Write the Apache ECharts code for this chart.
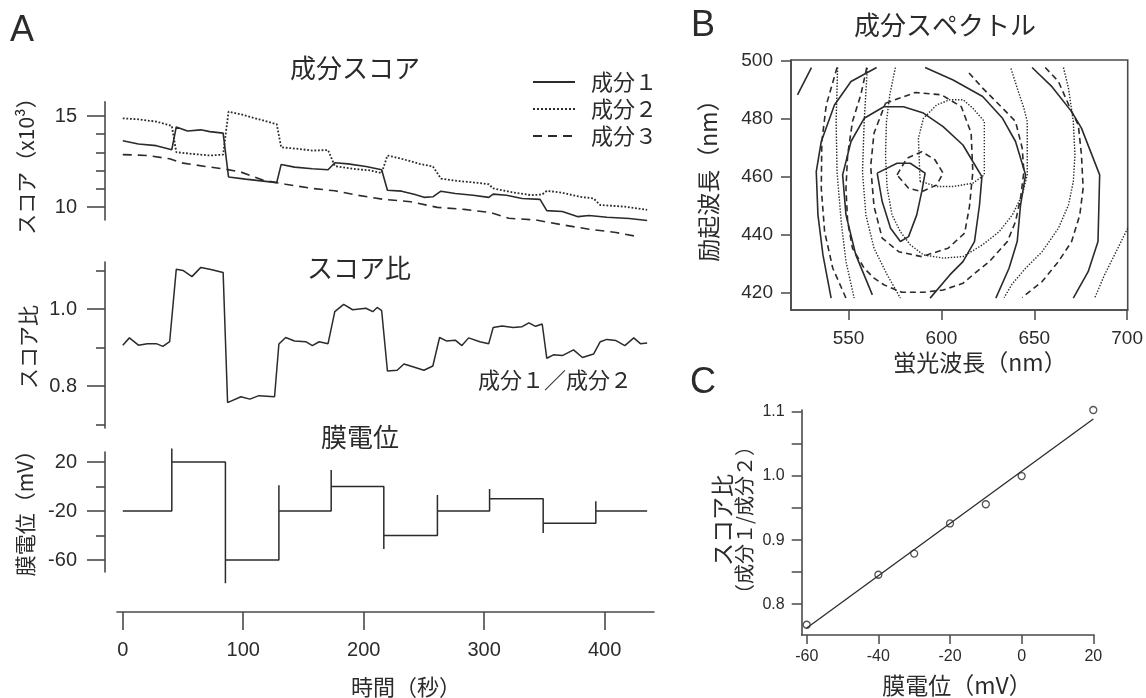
<!DOCTYPE html>
<html>
<head>
<meta charset="utf-8">
<title>成分スコア</title>
<script src="https://cdn.jsdelivr.net/npm/echarts@6/dist/echarts.min.js"></script>
<style>
  html, body { margin: 0; padding: 0; background: #fff; }
  #chart { width: 1146px; height: 698px; }
</style>
</head>
<body>
<div id="chart"></div>
<script>
  // ---- A: 成分スコア (時間 [秒], スコア x10^3)
  const scoreComp1 = [[0,13.64],[13,13.46],[27.8,13.37],[40.7,13.15],[44.4,14.40],[53.7,14.18],[64.8,14.24],[72.2,14.14],[83.3,14.06],[87.8,11.65],[101.8,11.53],[116.7,11.42],[127.8,11.34],[131.5,12.34],[142.6,12.19],[157.4,12.10],[170.4,12.05],[176,12.43],[187,12.37],[201.9,12.23],[214.9,12.05],[219.7,10.92],[231.5,10.87],[242.6,10.69],[250,10.53],[257.4,10.56],[264.1,10.87],[276,10.74],[290.8,10.65],[303.8,10.53],[307.5,10.71],[318.6,10.65],[331.5,10.47],[346.4,10.42],[352,9.80],[364.9,9.75],[377.9,9.47],[387.1,9.53],[401.9,9.44],[420.5,9.37],[435.3,9.26]]
  const scoreComp2 = [[0,14.87],[13,14.82],[27.8,14.69],[40.7,14.46],[44.4,13.01],[57.4,12.92],[72.2,12.83],[83.3,12.88],[87.8,15.24],[98.1,15.09],[113,14.82],[127.8,14.55],[131.5,13.28],[146.3,13.19],[157.4,13.10],[170.4,13.13],[176,12.25],[190.8,12.10],[205.6,12.01],[214.9,11.86],[219.7,12.83],[231.5,12.65],[246.3,12.37],[257.4,12.23],[264.1,11.56],[279.7,11.42],[294.5,11.33],[303.8,11.25],[307.5,11.02],[324.1,10.80],[339,10.65],[348.2,10.69],[352,10.89],[364.9,10.78],[379.7,10.56],[390.8,10.47],[396.4,10.11],[416.8,10.02],[435.3,9.84]]
  const scoreComp3 = [[0,12.88],[20.4,12.83],[38.9,12.65],[50,12.41],[68.5,12.23],[83.3,12.10],[98.1,11.92],[116.7,11.47],[135.2,11.25],[157.4,11.02],[176,10.89],[194.5,10.65],[216.7,10.42],[238.9,10.29],[261.2,9.98],[283.4,9.87],[305.6,9.69],[320.4,9.38],[342.7,9.29],[364.9,9.02],[387.1,8.78],[409.4,8.60],[427.9,8.37]]

  // ---- A: スコア比 (成分1/成分2)
  const ratioTrace = [[0,0.906],[5.5,0.925],[13,0.906],[20.4,0.91],[27.8,0.91],[33.3,0.903],[38.9,0.915],[44.4,1.103],[50,1.10],[57.4,1.084],[64.8,1.108],[72.2,1.103],[83.3,1.095],[87,0.757],[98.1,0.772],[105.5,0.766],[113,0.775],[126,0.772],[129.6,0.909],[135.2,0.926],[142.6,0.917],[151.9,0.915],[157.4,0.905],[163,0.915],[170.4,0.91],[176,0.993],[183.4,1.012],[190.8,0.998],[201.9,1.002],[207.5,0.993],[211.2,1.004],[214.9,0.996],[219.7,0.839],[227.8,0.841],[233.4,0.857],[240.8,0.85],[250,0.841],[257.4,0.852],[263,0.926],[268.6,0.917],[276,0.919],[281.5,0.905],[287.1,0.925],[296.4,0.915],[303.8,0.91],[307.5,0.952],[314.9,0.956],[324.1,0.952],[331.5,0.954],[337.1,0.964],[342.7,0.955],[348.2,0.961],[352,0.872],[357.5,0.881],[364.9,0.879],[374.2,0.894],[381.6,0.874],[390.8,0.883],[396.4,0.915],[401.9,0.921],[409.4,0.918],[416.8,0.905],[424.2,0.925],[429.7,0.91],[435.3,0.912]]

  // ---- A: 膜電位 steps (秒, mV)
  const vmStepTimes = [0, 40.7, 85.2, 129.6, 173, 216.7, 261.2, 304.5, 349, 392.7, 435.3]
  const vmLevels = [-20, 20, -60, -20, 0, -40, -20, -10, -30, -20]
  const vmPeaks = [null, 31, -79, 1, 13.5, -51, -7, -2, -38, -12]

  const timeTicks = [0, 100, 200, 300, 400]

  // ---- B: 成分スペクトル contours [蛍光波長, 励起波長]
  const solidContours = [
    [[522.5,488.3],[530,497.7]],
    [[565.1,497.7],[551.3,492.9],[542.4,484.8],[535.3,472.2],[532.6,461.8],[533.5,446.9],[536.2,433.1],[540.6,418.2]],
    [[591.2,497.7],[606.3,493.4],[622.2,487.7],[632.9,480.2],[639.9,472.2],[645.3,460.7],[642.6,450.3],[640.8,437.7],[636.4,428.5],[629.3,418.2]],
    [[562.8,419.3],[553.9,433.1],[548.6,446.9],[546.8,460.7],[551.3,472.2],[558.4,480.2],[569,484.2],[579.6,484.2],[590.3,482],[600.9,477.3],[611.6,471],[616.9,465.3],[621.8,460.1],[620.5,450.3],[617.8,437.7],[611.6,430.8],[604.5,426.2],[593.9,418.2]],
    [[565.4,461.3],[576.1,464.7],[583.2,464.7],[591.2,461.3],[589.4,454.9],[586.7,446.9],[582.3,439.4],[577.9,437.7],[572.6,442.3],[568.1,451.5],[565.4,461.3]],
    [[648.8,497.7],[659.5,491.1],[670.1,482.5],[675.4,476.8],[685.2,460.7],[684.3,437.7],[679,427.3],[671,418.2]]
  ]
  const dashedContours = [
    [[543.8,497.7],[538,484.8],[535.6,472.2],[535.3,456.1],[537.1,441.1],[541.5,428.5],[548.6,418.2]],
    [[559.8,497.7],[556.6,488.3],[552.1,479.1],[549.5,467.6],[548.6,456.1],[549.5,444.6],[552.1,435.4],[558.4,428.5],[563.7,425.1],[569,422.8],[578.7,420.2],[590.3,420.2],[600.9,421],[611.6,423.3],[616.9,426.2],[625.8,430.8],[635.5,437.7],[639.9,444.6],[642.6,452.7],[644.4,461.8],[643.5,469.9],[639.9,479.1],[632.9,483.7],[622.2,490.6],[614.2,496.3]],
    [[569.9,485.4],[585.9,489.1],[600,488.3],[610.7,484.2],[616,475.1],[616.9,461.7],[615.1,449.8],[612.5,440.6],[603.6,435.4],[589.4,432.5],[577,434.2],[568.1,438.9],[563.7,449.8],[561.9,463.6],[563.7,475.1],[569.9,485.4]],
    [[576.1,460.7],[581.4,466.4],[589.4,468.7],[596.5,465.9],[600.9,461.3],[597.4,457.2],[589.4,454.9],[582.3,456.1],[576.1,460.7]],
    [[655.9,497.7],[663,492.9],[670.1,482.5],[673.7,477.9],[675.4,467.6],[676.3,456.1],[674.5,446.9],[670.1,437.7],[663,430.8],[654.2,423.9],[643.5,418.4]]
  ]
  const dottedContours = [
    [[544.1,497.7],[543.3,479.1],[543.8,461.8],[546,444.6],[548.6,430.8],[553,418.2]],
    [[575.2,497.7],[572.2,488.3],[570.4,479.1],[569.9,467.6],[570.8,456.1],[573.4,446.9],[577.9,441.1],[583.2,436.6],[590.3,433.1],[600.9,432],[611.6,432.5],[622.2,436.6],[631.1,441.1],[638.2,446.9],[643.5,453.8],[646.2,460.7],[646.2,479.1],[644.4,483.7],[640.8,490.6],[637.3,497.7]],
    [[588.5,458.4],[587.6,473.3],[590.3,480.2],[597.4,484.8],[604.5,486.6],[611.6,486.6],[616.9,483.7],[623.1,479.1],[623.1,460.7],[616.9,457.8],[606.3,456.7],[597.4,456.7],[592,457.8],[588.5,458.4]],
    [[665.7,497.7],[668.4,490.6],[671,479.1],[671.9,467.6],[671,458.4],[668.4,450.3],[663,442.3],[654.2,434.2],[645.3,428.5],[638,423],[633.8,418.4]],
    [[700.3,442.3],[693.2,433.1],[687.8,426.2],[682.5,418.2]],
    [[560.1,497.5],[558.4,479.1],[557.5,461.8],[559.3,446.9],[563.7,435.4],[570.8,426.2],[577.9,418.2]]
  ]
  const emTicks = [550, 600, 650, 700]
  const exTicks = [420, 440, 460, 480, 500]

  // ---- C: スコア比 vs 膜電位
  const cVm = [-60, -40, -30, -20, -10, 0, 20]
  const cRatio = [0.768, 0.846, 0.879, 0.926, 0.956, 1.0, 1.103]
  const cFit = [[-60, 0.763], [20, 1.089]]
  const cVmTicks = [-60, -40, -20, 0, 20]
  const cRatioTicks = [0.8, 0.85, 0.9, 0.95, 1.0, 1.05, 1.1]
  const cRatioLabels = [0.8, 0.9, 1.0, 1.1]

  const INK = '#2b2b2b'
  const AXIS = '#4a4a4a'
  const JP = '"Noto Sans CJK JP", sans-serif'
  const NUM = '"Liberation Sans", Arial, sans-serif'

  // membrane potential trace: level, vertical transient at each step, new level
  const vmTrace = [[vmStepTimes[0], vmLevels[0]]]
  for (let i = 1; i < vmLevels.length; i++) {
    vmTrace.push([vmStepTimes[i], vmLevels[i - 1]])
    vmTrace.push([vmStepTimes[i], vmPeaks[i]])
    vmTrace.push([vmStepTimes[i], vmLevels[i]])
  }
  vmTrace.push([vmStepTimes[vmStepTimes.length - 1], vmLevels[vmLevels.length - 1]])

  const tMin = -4.8
  const tMax = 441

  function hiddenX(grid) {
    return { gridIndex: grid, type: 'value', min: tMin, max: tMax, show: false }
  }
  function leftAxis(grid, min, max, ticks, len, labels, fmt) {
    return {
      gridIndex: grid, type: 'value', position: 'left', offset: 12, min: min, max: max,
      axisLine: { show: labels, onZero: false, lineStyle: { color: AXIS, width: 1.6 } },
      axisTick: { show: true, customValues: ticks, length: len, lineStyle: { color: AXIS, width: 1.6 } },
      axisLabel: {
        show: labels, customValues: ticks, margin: 28, color: INK,
        fontSize: 20, fontFamily: NUM, formatter: fmt
      },
      splitLine: { show: false }
    }
  }
  function contour(data, type, width) {
    return {
      type: 'line', xAxisIndex: 4, yAxisIndex: 7, data: data, symbol: 'none',
      silent: true, lineStyle: { color: INK, width: width, type: type }
    }
  }
  function text(x, y, str, size, extra, family) {
    return Object.assign({
      type: 'text', x: x, y: y,
      style: {
        text: str, fill: INK, fontSize: size, fontFamily: family || JP,
        textAlign: 'center', textVerticalAlign: 'middle'
      }
    }, extra || {})
  }
  const noSymbol = { color: 'rgba(0,0,0,0)', borderWidth: 0 }

  const chart = echarts.init(document.getElementById('chart'))
  chart.setOption({
    animation: false,
    backgroundColor: '#fff',
    legend: {
      data: ['成分１', '成分２', '成分３'],
      orient: 'vertical', left: 527, top: 66,
      itemWidth: 42, itemHeight: 14, itemGap: 5,
      itemStyle: noSymbol,
      textStyle: { fontSize: 22, fontFamily: JP, color: INK, padding: [0, 0, 0, 11] }
    },
    grid: [
      { left: 117, top: 101.7, width: 537, height: 118.3 },
      { left: 117, top: 262, width: 537, height: 166 },
      { left: 117, top: 452, width: 537, height: 120 },
      { left: 117, top: 600, width: 537, height: 12 },
      { left: 791, top: 60, width: 340.7, height: 250, show: true, borderColor: AXIS, borderWidth: 1.6 },
      { left: 801.7, top: 410, width: 292.3, height: 225 }
    ],
    xAxis: [
      hiddenX(0), hiddenX(1), hiddenX(2),
      {
        gridIndex: 3, type: 'value', min: tMin, max: tMax, position: 'bottom',
        axisLine: { show: true, onZero: false, lineStyle: { color: AXIS, width: 1.6 } },
        axisTick: { show: true, customValues: timeTicks, length: 18, lineStyle: { color: AXIS, width: 1.6 } },
        axisLabel: { customValues: timeTicks, margin: 28, color: INK, fontSize: 20, fontFamily: NUM },
        splitLine: { show: false }
      },
      {
        gridIndex: 4, type: 'value', min: 519, max: 700.3, position: 'bottom',
        axisLine: { show: true, onZero: false, lineStyle: { color: AXIS, width: 1.6 } },
        axisTick: { show: true, customValues: emTicks, length: 10, lineStyle: { color: AXIS, width: 1.5 } },
        axisLabel: { customValues: emTicks, margin: 19, color: INK, fontSize: 19, fontFamily: NUM },
        splitLine: { show: false }
      },
      {
        gridIndex: 5, type: 'value', min: -61.4, max: 20.2, position: 'bottom',
        axisLine: { show: true, onZero: false, lineStyle: { color: AXIS, width: 1.6 } },
        axisTick: { show: true, customValues: cVmTicks, length: 9, lineStyle: { color: AXIS, width: 1.5 } },
        axisLabel: { customValues: cVmTicks, margin: 14, color: INK, fontSize: 16, fontFamily: NUM },
        splitLine: { show: false }
      }
    ],
    yAxis: [
      leftAxis(0, 9.286, 15.786, [10, 15], 18, true),
      leftAxis(0, 9.286, 15.786, [11, 12, 13, 14], 9, false),
      leftAxis(1, 0.691, 1.122, [0.8, 1.0], 18, true, v => v.toFixed(1)),
      leftAxis(1, 0.691, 1.122, [0.7, 0.9, 1.1], 9, false),
      leftAxis(2, -69.8, 28.2, [-60, -20, 20], 18, true),
      leftAxis(2, -69.8, 28.2, [-40, 0], 9, false),
      { gridIndex: 3, type: 'value', min: 0, max: 1, show: false },
      {
        gridIndex: 4, type: 'value', min: 414.1, max: 500.3, position: 'left',
        axisLine: { show: true, onZero: false, lineStyle: { color: AXIS, width: 1.6 } },
        axisTick: { show: true, customValues: exTicks, length: 10, lineStyle: { color: AXIS, width: 1.5 } },
        axisLabel: { customValues: exTicks, margin: 18, color: INK, fontSize: 19, fontFamily: NUM },
        splitLine: { show: false }
      },
      {
        gridIndex: 5, type: 'value', min: 0.752, max: 1.103, position: 'left',
        axisLine: { show: true, onZero: false, lineStyle: { color: AXIS, width: 1.6 } },
        axisTick: { show: true, customValues: cRatioTicks, length: 10, lineStyle: { color: AXIS, width: 1.5 } },
        axisLabel: {
          customValues: cRatioLabels, margin: 17, color: INK, fontSize: 16, fontFamily: NUM,
          formatter: v => v.toFixed(1)
        },
        splitLine: { show: false }
      }
    ],
    series: [
      { name: '成分１', type: 'line', xAxisIndex: 0, yAxisIndex: 0, data: scoreComp1, symbol: 'none', clip: false,
        itemStyle: noSymbol, lineStyle: { color: INK, width: 1.6, type: 'solid' } },
      { name: '成分２', type: 'line', xAxisIndex: 0, yAxisIndex: 0, data: scoreComp2, symbol: 'none', clip: false,
        itemStyle: noSymbol, lineStyle: { color: INK, width: 1.8, type: 'dotted' } },
      { name: '成分３', type: 'line', xAxisIndex: 0, yAxisIndex: 0, data: scoreComp3, symbol: 'none', clip: false,
        itemStyle: noSymbol, lineStyle: { color: INK, width: 1.6, type: [9, 6] } },
      { type: 'line', xAxisIndex: 1, yAxisIndex: 2, data: ratioTrace, symbol: 'none', clip: false,
        lineStyle: { color: INK, width: 1.5 } },
      { type: 'line', xAxisIndex: 2, yAxisIndex: 4, data: vmTrace, symbol: 'none', clip: false,
        lineStyle: { color: INK, width: 1.5 } },
      ...solidContours.map(c => contour(c, 'solid', 1.6)),
      ...dashedContours.map(c => contour(c, [6, 4], 1.6)),
      ...dottedContours.map(c => contour(c, [1.4, 1.6], 1.4)),
      { type: 'line', xAxisIndex: 5, yAxisIndex: 8, data: cFit, symbol: 'none',
        lineStyle: { color: INK, width: 1.3 } },
      { type: 'scatter', xAxisIndex: 5, yAxisIndex: 8, data: cVm.map((v, i) => [v, cRatio[i]]),
        symbol: 'circle', symbolSize: 7,
        itemStyle: { color: '#fff', borderColor: INK, borderWidth: 1.3 } }
    ],
    graphic: [
      text(22, 31, 'A', 36, null, NUM),
      text(703, 26, 'B', 36, null, NUM),
      text(703, 383, 'C', 36, null, NUM),
      text(355, 68, '成分スコア', 26),
      text(359, 268, 'スコア比', 26),
      text(360, 437, '膜電位', 26),
      text(555, 380, '成分１／成分２', 22),
      text(26, 161, 'スコア（x10³）', 21, { rotation: Math.PI / 2 }),
      text(28, 347, 'スコア比', 21, { rotation: Math.PI / 2 }),
      text(25, 508, '膜電位（mV）', 21, { rotation: Math.PI / 2 }),
      text(406, 687, '時間（秒）', 22),
      text(945, 25, '成分スペクトル', 26),
      text(980, 362, '蛍光波長（nm）', 23),
      text(708, 175, '励起波長（nm）', 23, { rotation: Math.PI / 2 }),
      text(957, 685, '膜電位（mV）', 23),
      {
        type: 'text', x: 733, y: 520, rotation: Math.PI / 2,
        style: {
          text: '{a|スコア比}\n{b|（成分１/成分２）}',
          textAlign: 'center', textVerticalAlign: 'middle', fill: INK,
          rich: {
            a: { fontSize: 23, fontFamily: JP, lineHeight: 22, fill: INK },
            b: { fontSize: 20, fontFamily: JP, lineHeight: 22, fill: INK }
          }
        }
      }
    ]
  })
</script>
</body>
</html>
